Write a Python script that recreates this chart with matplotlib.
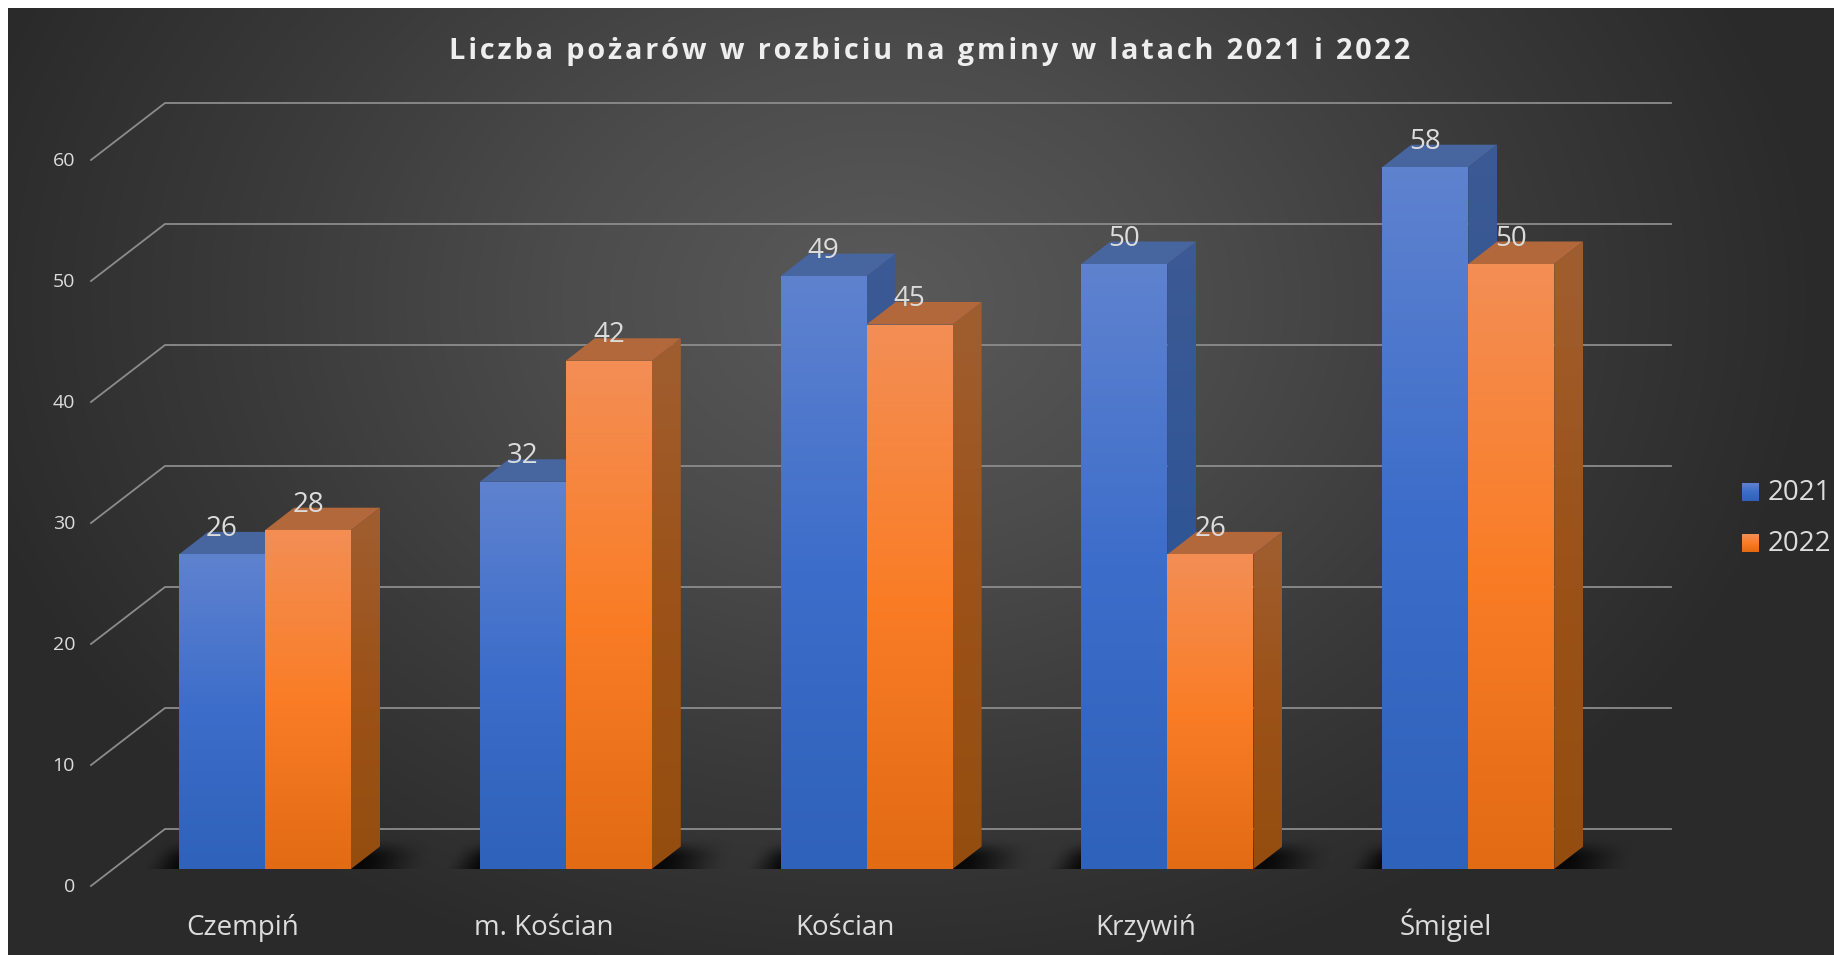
import numpy as np
import matplotlib
matplotlib.use('Agg')
import matplotlib.pyplot as plt
from matplotlib.colors import LinearSegmentedColormap
from matplotlib.patches import Polygon

categories = ['Czempiń', 'm. Kościan', 'Kościan', 'Krzywiń', 'Śmigiel']
series_names = ['2021', '2022']
values_2021 = [26, 32, 49, 50, 58]
values_2022 = [28, 42, 45, 26, 50]
y_ticks = [0, 10, 20, 30, 40, 50, 60]
title = 'Liczba pożarów w rozbiciu na gminy w latach 2021 i 2022'

plt.rcParams['font.family'] = ['Open Sans', 'DejaVu Sans']

W, H = 1834, 955
# skala: pixele na jednostke danych
UX = 300.8
UY = 12.1
X0 = 265
Y0 = 869
px = 1 / UX
py = 1 / UY

bar_w = 86 * px
depth_x = 29 * px
depth_y = 22.5 * py

blue_front = LinearSegmentedColormap.from_list('bf', ['#2f62ba', '#3c6dca', '#5f82cf'])
blue_side = LinearSegmentedColormap.from_list('bs', ['#2a4f90', '#2f5596', '#3c5a94'])
orange_front = LinearSegmentedColormap.from_list('of', ['#e26b14', '#fa7d26', '#f38e55'])
orange_side = LinearSegmentedColormap.from_list('os', ['#954d0f', '#9c5218', '#a05e30'])
blue_top = '#47659f'
orange_top = '#b3683c'
text_col = '#dcdcdc'
grid_col = '#8c8c8c'


def gradient_poly(ax, pts, cmap, z):
    """Wypelnia wielokat pionowym gradientem"""
    pts = np.array(pts)
    g = np.linspace(1, 0, 128).reshape(-1, 1)
    im = ax.imshow(g, cmap=cmap, vmin=0, vmax=1, aspect='auto', zorder=z, interpolation='bilinear',
                   extent=[pts[:, 0].min(), pts[:, 0].max(), pts[:, 1].min(), pts[:, 1].max()])
    poly = Polygon(pts, closed=True, transform=ax.transData, facecolor='none', edgecolor='none')
    ax.add_patch(poly)
    im.set_clip_path(poly)


def draw_bar(ax, x, v, front, side, top, z):
    gradient_poly(ax, [(x + bar_w, 0), (x + bar_w + depth_x, depth_y),
                       (x + bar_w + depth_x, v + depth_y), (x + bar_w, v)], side, z)
    ax.add_patch(Polygon([(x, v), (x + depth_x, v + depth_y), (x + bar_w + depth_x, v + depth_y),
                          (x + bar_w, v)], closed=True, facecolor=top, edgecolor='none', zorder=z))
    gradient_poly(ax, [(x, 0), (x + bar_w, 0), (x + bar_w, v), (x, v)], front, z + 0.1)


def smooth(t):
    t = np.clip(t, 0, 1)
    return t * t * (3 - 2 * t)


def draw_shadow(ax, c):
    # cien pod para slupkow, w pikselach wzgledem lewego dolnego rogu
    xs = np.linspace(-45, 290, 200)
    ys = np.linspace(0, 36, 50)
    xx, yy = np.meshgrid(xs, ys)
    a = smooth((xx + 38 - yy * 0.6) / 42) * smooth((250 + yy * 0.3 - xx) / 75) * smooth((32 - yy) / 22)
    rgba = np.zeros(a.shape + (4,))
    rgba[..., 3] = a * 0.85
    left = c - bar_w
    ax.imshow(rgba, aspect='auto', origin='lower', zorder=1.5, interpolation='bilinear',
              extent=[left + xs[0] * px, left + xs[-1] * px, 0, ys[-1] * py])


fig = plt.figure(figsize=(W / 100, H / 100), dpi=100, facecolor='white')
ax = fig.add_axes([0, 0, 1, 1])

# tlo z gradientem promienistym
xlim = (-X0 * px, (W - X0) * px)
ylim = ((Y0 - H) * py, Y0 * py)
gx, gy = np.meshgrid(np.linspace(8, W, 460), np.linspace(8, H, 240))
r = np.sqrt(((gx - 880) / 950) ** 2 + ((gy - 300) / 720) ** 2)
bg_cmap = LinearSegmentedColormap.from_list('bg', ['#5a5a5a', '#4c4c4c', '#3a3a3a', '#2a2a2a'])
ax.imshow(np.clip(r, 0, 1), cmap=bg_cmap, vmin=0, vmax=1, aspect='auto', zorder=0, interpolation='bilinear',
          extent=[(8 - X0) * px, (W - X0) * px, (Y0 - H) * py, (Y0 - 8) * py])

# siatka
back_x0 = (165 - X0) * px
front_x0 = (91 - X0) * px
grid_end = (1671 - X0) * px
back_dy = 40 * py
front_dy = -17 * py
for t in y_ticks:
    ax.plot([front_x0, back_x0, grid_end], [t + front_dy, t + back_dy, t + back_dy],
            color=grid_col, lw=1.3, zorder=1, solid_joinstyle='miter')
    ax.text((75 - X0) * px, t + front_dy - 1 * py, str(t), color=text_col, fontsize=14, ha='right', va='center', zorder=5)

# slupki
for i, cat in enumerate(categories):
    draw_shadow(ax, i)
    draw_bar(ax, i - bar_w, values_2021[i], blue_front, blue_side, blue_top, 2 + i * 0.01)
    draw_bar(ax, i, values_2022[i], orange_front, orange_side, orange_top, 2.5 + i * 0.01)
    ax.text(i - bar_w / 2, values_2021[i] + 25.5 * py, str(values_2021[i]), color=text_col, fontsize=20,
            ha='center', va='center', zorder=6)
    ax.text(i + bar_w / 2, values_2022[i] + 25.5 * py, str(values_2022[i]), color=text_col, fontsize=20,
            ha='center', va='center', zorder=6)
    ax.text(i - 22 * px, -66 * py, cat, color=text_col, fontsize=20, ha='center', va='baseline', zorder=6)

# legenda
for name, cmap, top_y in zip(series_names, [blue_front, orange_front], [483, 534]):
    lx = (1742 - X0) * px
    rx = (1759 - X0) * px
    by = (Y0 - top_y - 18) * py
    ty = (Y0 - top_y) * py
    gradient_poly(ax, [(lx, by), (rx, by), (rx, ty), (lx, ty)], cmap, 6)
    ax.text((1768 - X0) * px, (by + ty) / 2 - 1 * py, name, color=text_col, fontsize=20, ha='left', va='center', zorder=6)

# tytul ma rozstrzelone litery w oryginale
spaced = '\u200a'.join(title)
ax.text((930 - X0) * px, (Y0 - 51.5) * py, spaced, color='#eeeeee', fontsize=20.8, fontweight='bold',
        ha='center', va='center', zorder=6)

ax.set_xlim(xlim)
ax.set_ylim(ylim)
ax.axis('off')

fig.savefig('out.png', dpi=100, facecolor='white')
